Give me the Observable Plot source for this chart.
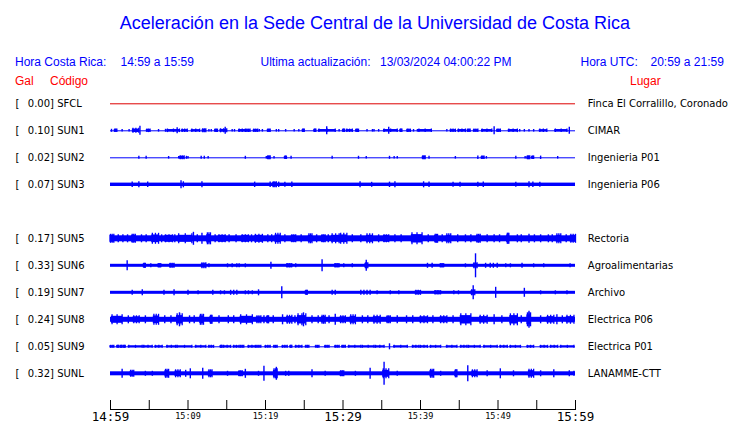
<!DOCTYPE html>
<html><head><meta charset="utf-8">
<script src="https://cdn.jsdelivr.net/npm/d3@7"></script>
<script src="https://cdn.jsdelivr.net/npm/@observablehq/plot@0.6"></script>
<style>
body{margin:0;background:#fff;}
#wrap{position:relative;width:740px;height:423px;overflow:hidden;font-family:"Liberation Sans",Arial,sans-serif;}
.t{position:absolute;white-space:pre;line-height:1;font-size:12px;}
.b{color:#0000ff;}
.r{color:#ff0000;}
#title{left:5px;width:740px;text-align:center;top:14px;font-size:18px;color:#0000ff;}
#chart{position:absolute;left:0;top:90px;}
</style></head><body>
<div id="wrap">
  <div class="t" id="title">Aceleración en la Sede Central de la Universidad de Costa Rica</div>
  <div class="t b" style="left:15px;top:56px">Hora Costa Rica:</div>
  <div class="t b" style="left:120.5px;top:56px">14:59 a 15:59</div>
  <div class="t b" style="left:260.5px;top:56px">Ultima actualización:</div>
  <div class="t b" style="left:380px;top:56px">13/03/2024 04:00:22 PM</div>
  <div class="t b" style="left:580.5px;top:56px">Hora UTC:</div>
  <div class="t b" style="left:650.5px;top:56px">20:59 a 21:59</div>
  <div class="t r" style="left:15px;top:74.5px">Gal</div>
  <div class="t r" style="left:50px;top:74.5px">Código</div>
  <div class="t r" style="left:630px;top:74.5px">Lugar</div>
  <div id="chart"></div>
</div>
<script>
// ---- data ----
const rowOrder = ["SFCL","SUN1","SUN2","SUN3","","SUN5","SUN6","SUN7","SUN8","SUN9","SUNL"];
const codes  = ["SFCL","SUN1","SUN2","SUN3","SUN5","SUN6","SUN7","SUN8","SUN9","SUNL"];
const gals   = ["0.00","0.10","0.02","0.07","0.17","0.33","0.19","0.24","0.05","0.32"];
const places = ["Finca El Corralillo, Coronado","CIMAR","Ingenieria P01","Ingenieria P06","Rectoria","Agroalimentarias","Archivo","Electrica P06","Electrica P01","LANAMME-CTT"];
// half-amplitude of the continuous background noise of each trace
const baseAmp = [0, 0.5, 0.5, 1.7, 3, 1.5, 1.5, 2.5, 0.5, 2];
const timeSpan = [0, 60];                 // minutes after 14:59
const tickMinutes = [0,5,10,15,20,25,30,35,40,45,50,55,60];
const labelMinutes = [0,10,20,30,40,50,60];
const timeLabels = ["14:59","15:09","15:19","15:29","15:39","15:49","15:59"];
const majorMinutes = [0,30,60];

// bursts: [start minute, end minute, half-amplitude]
const sun1Events = [[0.13,0.13,1.5],[0.55,0.82,1.7],[1.5,1.5,1.3],[2.4,2.4,1.3],[2.9,3.65,2.5],[3.8,3.8,4.5],[4.7,5.1,1.8],[6.2,6.2,1.3],[7.1,7.1,1.5],[7.35,8.9,1.8],[8.6,8.6,3],[9.25,9.9,1.7],[10.5,11.5,1.7],[11.9,12.3,2],[12.7,12.7,1.3],[13.0,13.0,1.3],[13.5,13.8,1.7],[14.2,15.0,2],[14.8,14.8,3.5],[15.7,15.7,1.3],[16.0,16.0,1.3],[16.6,17.4,1.8],[17.6,18.0,1.7],[18.5,19.0,1.8],[19.2,19.2,1.3],[19.6,19.6,1.3],[20.3,20.6,1.7],[21.4,21.4,1.3],[21.7,21.7,1.3],[22.6,22.6,1.3],[23.7,23.7,1.3],[24.3,24.3,1.3],[24.8,25.0,1.7],[26.3,26.5,1.7],[26.9,29.0,1.8],[27.9,27.9,4],[29.5,29.5,1.3],[30.0,30.2,1.7],[30.5,31.2,1.7],[31.7,32.0,1.7],[33.1,33.1,1.3],[33.8,33.8,1.3],[34.0,34.0,1.3],[34.6,34.6,1.3],[35.3,37.0,1.8],[35.9,35.9,3.5],[37.4,37.6,1.7],[38.3,38.7,1.7],[39.1,39.1,1.3],[39.6,39.6,1.3],[39.8,41.4,1.8],[43.4,43.4,1.3],[43.9,44.5,1.7],[44.9,45.8,1.8],[46.1,46.4,1.7],[46.9,47.4,1.7],[47.95,49.2,1.8],[49.5,49.5,4],[49.9,50.3,1.7],[51.4,52.5,1.8],[52.8,52.8,1.3],[53.4,53.4,1.3],[54.0,54.0,1.3],[54.6,54.6,1.3],[55.4,56.3,1.7],[57.4,58.9,1.8],[59.2,59.2,3.5]];
const sun2Events = [[3.66,3.66,1.5],[4.6,4.6,1.5],[7.5,7.5,1.3],[8.8,8.8,1.3],[9.0,9.5,2],[9.8,9.8,1.5],[10.0,10.0,1.3],[11.7,11.7,1.5],[12.1,12.1,1.5],[12.6,12.6,1.3],[17.4,17.4,1.5],[20.1,20.1,1.3],[20.3,20.6,2],[21.1,21.1,1.3],[22.5,22.7,1.7],[23.3,23.3,1.5],[28.6,28.6,1.5],[32.0,32.0,1.5],[33.0,33.0,1.3],[36.0,36.0,1.5],[36.6,36.6,1.3],[37.0,37.0,1.3],[40.3,40.6,2],[41.1,41.1,1.5],[44.5,44.5,1.3],[47.4,47.4,1.7],[47.9,48.2,1.7],[48.5,48.5,1.3],[52.3,52.3,1.5],[53.5,53.5,1.3],[53.8,54.1,2],[54.4,54.6,1.7],[55.5,55.5,1.7],[57.7,57.7,1.3]];
const sun3Events = [[2.8,2.8,2.7],[3.66,3.66,3],[4.8,4.8,2.7],[9.1,9.1,4],[9.4,9.4,3],[11.8,11.8,3],[18.6,18.6,2.7],[20.6,20.6,2.7],[21.0,21.4,3],[21.7,21.7,2.7],[22.5,22.5,2.5],[23.4,23.4,2.7],[32.2,32.2,3],[33.7,33.7,2.5],[36.0,36.0,2.7],[36.7,36.7,3],[40.4,40.4,3],[41.1,41.1,2.7],[44.2,44.2,2.5],[45.1,45.1,2.5],[47.4,47.4,2.5],[48.1,48.1,2.7],[52.3,52.3,2.5],[54.0,54.0,3],[54.5,54.5,2.7],[55.4,55.4,2.5]];
const sun5Events = [[0,0.43,4.5],[1.0,1.0,4],[1.6,1.6,4],[2.2,2.2,4],[2.8,3.2,4.5],[4.0,4.0,4],[4.6,4.6,4],[5.4,6.2,5.5],[6.6,6.6,4],[7.1,8.0,4],[8.3,8.3,4],[8.8,10.5,5],[10.7,10.7,6.5],[11.2,11.2,4],[11.8,11.8,5.5],[12.5,12.9,6],[13.5,13.5,4],[14.0,14.8,4],[15.3,15.3,4],[16.2,16.2,4],[17.0,17.8,4],[18.2,18.2,4],[18.7,19.6,4.5],[20.3,20.3,4],[20.8,20.8,4],[21.3,21.9,5.5],[22.5,22.5,4],[23.4,23.9,4],[24.6,24.6,4],[25.6,26.0,5],[26.6,26.6,4],[27.3,27.7,4],[28.1,28.1,4],[28.6,29.5,5],[29.7,30.5,5.5],[31.2,31.2,4],[32.3,32.3,4],[33.1,33.8,5],[34.6,34.6,4],[35.3,35.9,4],[36.7,36.7,4],[37.5,37.5,4],[38.9,40.2,6],[41.0,41.0,4],[41.9,42.2,4.5],[42.8,42.8,4],[43.4,43.9,5],[44.8,44.8,4],[45.8,45.8,4],[46.5,46.5,4],[47.3,47.7,4.5],[48.6,48.6,4],[49.5,49.5,4],[50.2,50.2,4],[51.2,51.4,5.5],[52.5,52.5,4],[53.0,53.0,4],[54.0,54.0,4.5],[54.7,54.7,4],[55.5,55.5,4],[56.5,56.5,4],[57.0,57.0,4],[57.6,58.1,5],[58.8,58.8,4],[59.4,60,4.5]];
const sun6Events = [[2.15,2.15,5],[4.3,4.5,2.5],[5.2,5.2,2],[6.2,6.5,2],[7.7,8.2,2.5],[11.8,12.3,3],[12.7,12.7,2],[15.1,15.1,2],[15.7,15.7,2],[16.3,16.3,2],[16.6,16.6,2],[17.4,17.4,2],[20.7,20.7,3.5],[22.8,23.4,2],[23.9,23.9,2],[27.3,27.3,6],[29.0,29.5,2],[30.1,30.1,2],[31.2,31.2,2],[32.9,33.2,3],[33.0,33.0,5.5],[40.9,40.9,2.5],[41.5,41.5,2.5],[42.6,43.0,2],[45.8,45.8,2],[46.9,47.3,3],[47.1,47.1,12],[48.4,48.4,2.5],[49.0,49.0,2.5],[49.4,49.4,2.5],[49.9,49.9,2.5],[51.0,51.0,2],[51.6,51.6,2],[53.1,53.1,2.5],[54.6,54.6,2],[55.9,55.9,2],[59.3,59.3,2]];
const sun7Events = [[2.8,2.8,2.5],[4.1,4.1,3],[6.9,6.9,2.5],[8.2,8.2,3],[10.0,10.0,2.5],[11.3,11.3,2],[13.2,13.2,2.5],[14.2,14.2,2],[14.7,14.7,2],[15.5,15.5,2.5],[15.9,15.9,2.5],[16.3,16.3,2.5],[17.4,17.4,2],[17.8,17.8,2],[18.3,18.3,2],[19.1,19.1,3],[22.1,22.1,6],[25.2,25.4,2.5],[28.6,28.6,2.5],[29.0,29.0,2.5],[32.3,32.3,2.5],[32.7,32.7,2.5],[33.1,33.1,2.5],[33.5,33.5,2.5],[34.4,34.4,2],[36.1,36.1,2],[37.2,37.2,2],[39.4,40.0,2.5],[41.9,42.6,2],[44.3,44.3,2],[44.9,44.9,2],[46.6,47.0,3],[46.8,46.8,7],[49.7,49.7,5.5],[53.4,53.4,4.5],[55.5,55.5,2],[57.4,57.4,2],[58.9,58.9,2]];
const sun8Events = [[0.2,1.5,5],[2.3,2.3,4],[3.0,3.7,4],[4.5,4.5,4],[5.6,6.2,5.5],[7.0,7.0,4],[7.8,7.8,4],[8.6,9.25,6],[8.9,8.9,7],[10.2,10.2,4],[10.8,10.8,4],[11.6,12.0,5.5],[12.9,13.1,4.5],[14.0,14.0,4],[15.2,15.2,4],[15.9,15.9,4],[16.8,18.3,5],[18.9,19.4,4],[19.8,19.8,4],[20.2,20.4,4],[21.0,21.0,4],[22.2,22.2,5],[22.8,23.4,4.5],[23.8,23.8,4],[24.2,25.2,6],[24.9,24.9,7],[26.0,26.0,4],[26.8,26.8,4],[27.3,27.7,4.5],[28.2,28.2,4],[29.0,29.0,5.5],[29.7,30.3,4],[31.0,31.6,5],[32.5,32.5,4],[33.2,33.2,4],[34.0,34.8,4.5],[35.7,36.1,4],[37.0,37.0,4],[38.2,38.2,4],[39.0,39.0,4],[40.0,40.9,4],[41.6,41.6,4],[42.6,43.4,4],[44.2,44.2,4],[45.2,46.5,6],[47.7,48.6,4.5],[49.5,49.5,5],[50.5,50.5,4],[51.6,52.5,6],[53.0,53.0,4],[53.8,54.2,7],[54.0,54.0,8.5],[55.5,55.5,4],[56.4,57.2,4.5],[57.6,57.6,5],[58.3,58.3,4],[58.9,59.8,4.5]];
const sun9Events = [[0,0.43,1.5],[0.86,1.07,1.5],[1.29,1.5,1.5],[1.7,1.9,1.5],[2.36,4.09,1.5],[4.3,5.38,1.5],[5.8,6.67,1.5],[7.3,8.4,1.5],[8.6,10.5,1.5],[11.0,12.3,1.5],[12.7,13.3,1.5],[14.2,14.4,1.5],[14.6,15.5,1.5],[15.9,16.6,1.5],[16.8,17.2,1.5],[17.8,18.7,1.5],[18.9,19.4,1.5],[20.0,20.6,1.5],[21.1,21.5,1.5],[22.2,22.8,1.5],[23.2,23.4,1.5],[23.9,24.7,1.5],[25.2,25.6,1.5],[26.5,26.9,1.5],[27.7,28.2,1.5],[29.0,29.5,1.5],[29.9,30.3,1.5],[30.75,32.3,1.5],[32.5,34.0,1.5],[34.2,35.3,1.5],[36.0,36.0,3],[36.6,38.3,1.5],[39.0,39.8,1.5],[40.0,40.9,1.5],[41.3,42.6,1.5],[43.4,44.7,1.5],[45.2,46.0,1.5],[46.2,47.7,1.5],[48.2,49.9,1.5],[50.3,51.2,1.5],[51.6,52.9,1.5],[53.8,54.6,1.5],[55.5,56.4,1.5],[56.8,57.7,1.5],[58.1,59.8,1.5]];
const sunlEvents = [[1.5,1.5,4.5],[2.6,3.0,3.5],[4.5,4.5,2.5],[5.4,5.4,2.5],[7.1,7.5,4.5],[8.4,9.0,4],[9.7,9.7,3.5],[10.3,10.3,5],[11.9,11.9,5.5],[12.7,13.1,4],[15.1,15.1,2.5],[16.6,17.0,3],[17.4,17.4,4.5],[19.1,19.1,2.5],[19.8,19.8,7.5],[21.1,21.5,5],[21.4,21.4,6.5],[22.6,22.6,2.5],[23.0,23.0,2.5],[26.0,26.0,4],[27.7,27.7,2.5],[29.9,29.9,2.5],[29.7,30.1,3],[31.6,31.6,2.5],[33.5,33.5,5.5],[35.2,35.9,5],[35.3,35.3,11.5],[37.0,37.0,2.5],[41.3,41.7,4.5],[42.6,42.6,2.5],[44.5,44.7,4],[46.1,46.1,8],[46.7,47.3,4],[48.6,48.6,3],[50.3,50.3,5],[52.0,52.0,3],[54.0,54.6,4.5],[55.5,55.5,3],[57.2,57.2,4],[59.2,59.2,3],[59.8,59.8,2.5]];

// ---- build tables ----
const ROW = 27;      // amplitude units per row spacing
const CORE = 0.7;    // drawn core of a long burst, relative to its peaks
const eventLists = [[], sun1Events, sun2Events, sun3Events, sun5Events, sun6Events, sun7Events, sun8Events, sun9Events, sunlEvents];
const stations = codes.map((c, i) => ({code: c, gal: gals[i], place: places[i], row: rowOrder.indexOf(c), base: baseAmp[i]}));
const bands = stations.filter(s => s.base > 0.5);
const lines = stations.filter(s => s.base <= 0.5 && s.code !== "SFCL");
const events = stations.flatMap((s, i) => eventLists[i].map(([t0, t1, a]) => ({row: s.row, t0, t1, a, base: s.base})));
const longBursts = events.filter(e => e.t1 > e.t0);
const spikes = events.filter(e => e.t1 === e.t0);
// peaks of a long burst shown at its edges and middle
const burstPeaks = longBursts.flatMap(e => [e.t0, (e.t0 + e.t1) / 2, e.t1].map(t => ({row: e.row, t, a: e.a})));

const BLUE = "#0000ff";
const coreAmp = e => Math.max(e.base + 0.5, e.a * CORE);
const chart = Plot.plot({
  width: 740, height: 333,
  marginLeft: 110, marginRight: 165, marginTop: 13, marginBottom: 14,
  style: {fontFamily: "DejaVu Sans", fontSize: "10px", background: "transparent", color: "#000"},
  x: {domain: timeSpan, axis: null},
  y: {domain: [0, 10], range: [13.3, 283.3], axis: null},
  marks: [
    Plot.ruleY(stations.filter(s => s.code === "SFCL"), {y: "row", stroke: "#dd0000", strokeWidth: 1}),
    Plot.ruleY(lines, {y: "row", stroke: BLUE, strokeWidth: 1}),
    Plot.rect(bands, {x1: () => timeSpan[0], x2: () => timeSpan[1], y1: d => d.row - d.base / ROW, y2: d => d.row + d.base / ROW, fill: BLUE}),
    Plot.rect(longBursts, {x1: "t0", x2: "t1", y1: d => d.row - coreAmp(d) / ROW, y2: d => d.row + coreAmp(d) / ROW, fill: BLUE, insetLeft: -0.6, insetRight: -0.6}),
    Plot.ruleX(burstPeaks, {x: "t", y1: d => d.row - d.a / ROW, y2: d => d.row + d.a / ROW, stroke: BLUE, strokeWidth: 1.3}),
    Plot.ruleX(spikes, {x: "t0", y1: d => d.row - d.a / ROW, y2: d => d.row + d.a / ROW, stroke: BLUE, strokeWidth: 1.4}),
    Plot.text(stations, {y: "row", text: () => "[", frameAnchor: "left", dx: -95, textAnchor: "start", fill: "#000"}),
    Plot.text(stations, {y: "row", text: d => d.gal + "] " + d.code, frameAnchor: "left", dx: -82.7, textAnchor: "start", fill: "#000"}),
    Plot.text(stations, {y: "row", text: "place", frameAnchor: "right", dx: 12.3, textAnchor: "start", fill: "#000"}),
    Plot.frame({anchor: "bottom", stroke: "#000"}),
    Plot.ruleX(tickMinutes, {x: d => d, insetTop: 297, stroke: "#000"}),
    Plot.axisX(labelMinutes.filter(m => !majorMinutes.includes(m)), {anchor: "bottom", tickSize: 0, tickPadding: 3, label: null,
      tickFormat: m => timeLabels[labelMinutes.indexOf(m)], fontFamily: "DejaVu Sans Mono", fontSize: 8.5}),
    Plot.axisX(majorMinutes, {anchor: "bottom", tickSize: 0, tickPadding: 2.5, label: null,
      tickFormat: m => timeLabels[labelMinutes.indexOf(m)], fontFamily: "DejaVu Sans Mono", fontSize: 12.5})
  ]
});
document.getElementById("chart").appendChild(chart);
</script>
</body></html>
